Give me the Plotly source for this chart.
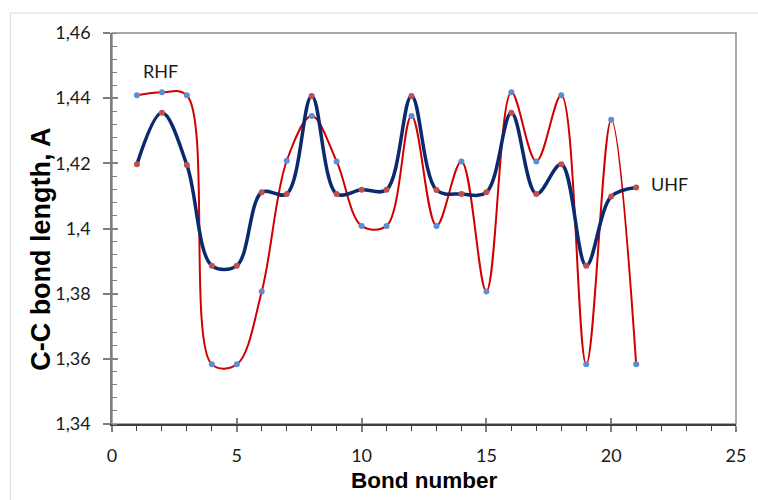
import plotly.graph_objects as go

bond_number = list(range(1, 22))
rhf = [1.4409, 1.4418, 1.4409, 1.3583, 1.3583, 1.3807, 1.4208, 1.4345, 1.4206, 1.4008,
       1.4008, 1.4345, 1.4008, 1.4206, 1.3807, 1.4418, 1.4206, 1.4409, 1.3583, 1.4334, 1.3583]
uhf = [1.4197, 1.4355, 1.4195, 1.3886, 1.3886, 1.4111, 1.4106, 1.4407, 1.4106, 1.4119,
       1.4119, 1.4407, 1.4118, 1.4106, 1.4111, 1.4355, 1.4106, 1.4197, 1.3886, 1.4098, 1.4126]

y_tick_vals = [1.34, 1.36, 1.38, 1.40, 1.42, 1.44, 1.46]
y_tick_labels = ["1,34", "1,36", "1,38", "1,4", "1,42", "1,44", "1,46"]
x_tick_vals = [0, 5, 10, 15, 20, 25]
x_tick_labels = ["0", "5", "10", "15", "20", "25"]

RED_LINE = "#D00000"
NAVY_LINE = "#0B2A6E"
BLUE_MARK = "#5B8ED3"
RED_MARK = "#C0504D"
TICK_FONT = dict(family="Lato", size=18, color="#1A1A1A")

fig = go.Figure()
fig.add_trace(go.Scatter(x=bond_number, y=rhf, mode="lines",
                         line=dict(color=RED_LINE, width=2, shape="spline", smoothing=1),
                         name="RHF", hoverinfo="skip"))
fig.add_trace(go.Scatter(x=bond_number, y=uhf, mode="lines",
                         line=dict(color=NAVY_LINE, width=3.5, shape="spline", smoothing=1),
                         name="UHF", hoverinfo="skip"))
fig.add_trace(go.Scatter(x=bond_number, y=rhf, mode="markers",
                         marker=dict(color=BLUE_MARK, size=6), name="RHF pts"))
fig.add_trace(go.Scatter(x=bond_number, y=uhf, mode="markers",
                         marker=dict(color=RED_MARK, size=6), name="UHF pts"))
# empty trace to activate overlay axes used for crossing major ticks
fig.add_trace(go.Scatter(x=[], y=[], xaxis="x2", yaxis="y2", showlegend=False))

fig.update_layout(
    width=758, height=500,
    margin=dict(l=112, r=14, t=33, b=76),
    paper_bgcolor="white", plot_bgcolor="white",
    showlegend=False,
    xaxis=dict(range=[0, 25], tickvals=x_tick_vals, ticktext=x_tick_labels,
               ticks="outside", ticklen=6, tickwidth=1.5, tickcolor="#7F7F7F",
               minor=dict(dtick=1, ticks="outside", ticklen=5, tickcolor="#404040", tickwidth=1),
               showline=True, linecolor="#404040", linewidth=1.5,
               showgrid=False, zeroline=False, tickfont=TICK_FONT,
               ticklabelstandoff=9),
    yaxis=dict(range=[1.34, 1.46], tickvals=y_tick_vals, ticktext=y_tick_labels,
               ticks="outside", ticklen=7, tickwidth=1.5, tickcolor="#7F7F7F",
               minor=dict(dtick=0.004, ticks="inside", ticklen=5, tickcolor="#7F7F7F", tickwidth=1),
               showline=True, linecolor="#7F7F7F", linewidth=1.5,
               showgrid=False, zeroline=False, tickfont=TICK_FONT,
               ticklabelstandoff=9),
    xaxis2=dict(range=[0, 25], overlaying="x", anchor="y2", side="bottom",
                tickvals=x_tick_vals, ticks="inside", ticklen=6, tickwidth=1.5,
                tickcolor="#7F7F7F", showticklabels=False, showline=False,
                showgrid=False, zeroline=False),
    yaxis2=dict(range=[1.34, 1.46], overlaying="y", anchor="x2", side="left",
                tickvals=y_tick_vals, ticks="inside", ticklen=6, tickwidth=1.5,
                tickcolor="#7F7F7F", showticklabels=False, showline=False,
                showgrid=False, zeroline=False),
    shapes=[
        dict(type="rect", xref="paper", yref="paper", x0=-0.163, x1=1.5, y0=-0.5, y1=1.051,
             line=dict(color="#D9D9D9", width=1), fillcolor="rgba(0,0,0,0)", layer="below"),
        dict(type="rect", xref="paper", yref="paper", x0=0, x1=1, y0=0, y1=1,
             line=dict(color="#8C8C8C", width=1.5), fillcolor="rgba(0,0,0,0)", layer="below"),
    ],
    annotations=[
        dict(text="RHF", x=1.94, y=1.4482, xref="x", yref="y", showarrow=False,
             font=dict(family="Lato", size=18, color="#1A1A1A")),
        dict(text="UHF", x=21.5, y=1.4138, xref="x", yref="y", showarrow=False, xanchor="left",
             font=dict(family="Lato", size=18, color="#1A1A1A")),
        dict(text="<b>C-C bond length, A</b>", x=-0.14, y=0.447, xref="paper", yref="paper",
             textangle=-90, showarrow=False,
             font=dict(family="Liberation Sans", size=27, color="#000000")),
        dict(text="<b>Bond number</b>", x=0.5, y=-0.145, xref="paper", yref="paper",
             yanchor="middle", showarrow=False,
             font=dict(family="Liberation Sans", size=22.5, color="#000000")),
    ],
)

fig.write_html("out.html")
